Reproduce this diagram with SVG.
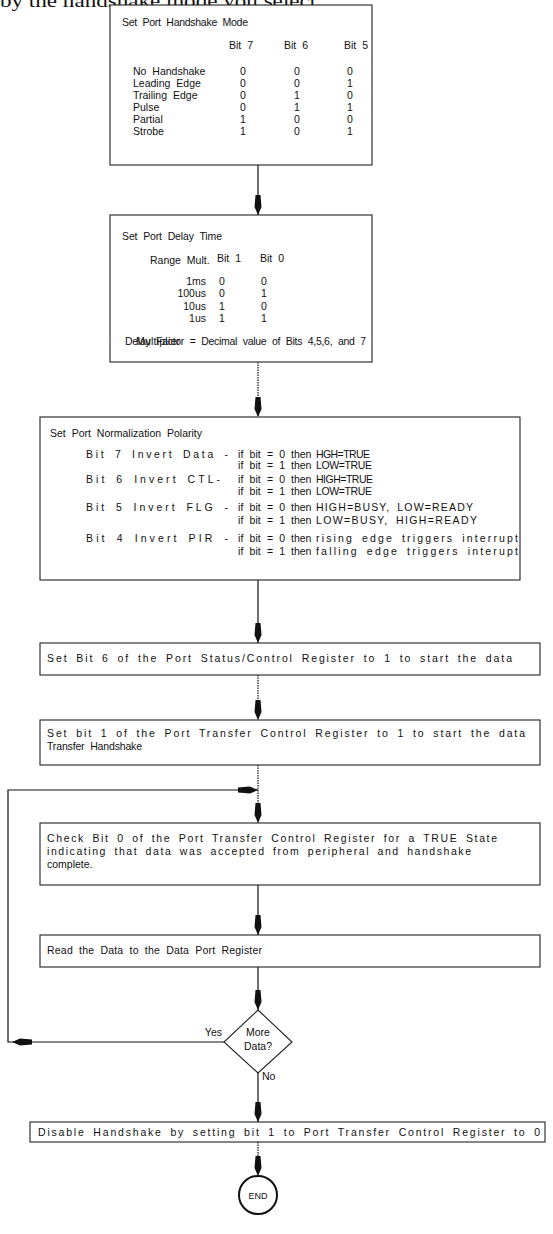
<svg xmlns="http://www.w3.org/2000/svg" width="553" height="1234" viewBox="0 0 553 1234">
<style>
.t{font-family:"Liberation Sans",Arial,sans-serif;font-size:10.5px;word-spacing:3px;fill:#111}
.m{text-anchor:middle}
.e{text-anchor:end}
.box{fill:#fff;stroke:#222;stroke-width:1.1}
.c{fill:none;stroke:#111;stroke-width:1.2}
.d{stroke-dasharray:1.5 1}
.top{font-family:"Liberation Serif","Times New Roman",serif;font-size:18px;fill:#111}
</style>
<defs>
<marker id="ah" viewBox="0 0 20 8" refX="20" refY="4" markerWidth="20" markerHeight="8" orient="auto" markerUnits="userSpaceOnUse">
<path d="M0,1.5 L12,0.5 L20,4 L12,7.5 L0,6.5 z" fill="#111"/>
</marker>
</defs>
<rect width="553" height="1234" fill="#fff"/>
<text class="top" x="0" y="7" textLength="322" lengthAdjust="spacingAndGlyphs">by the handshake mode you select.</text>

<g id="connectors">
<path class="c" d="M258,165 V215" marker-end="url(#ah)"/>
<path class="c d" d="M258,362 V417" marker-end="url(#ah)"/>
<path class="c" d="M258,580 V643" marker-end="url(#ah)"/>
<path class="c d" d="M258,675 V720" marker-end="url(#ah)"/>
<path class="c d" d="M258,765 V823" marker-end="url(#ah)"/>
<path class="c" d="M258,885 V935" marker-end="url(#ah)"/>
<path class="c" d="M258,967 V1010" marker-end="url(#ah)"/>
<path class="c" d="M258,1073 V1122" marker-end="url(#ah)"/>
<path class="c d" d="M258,1142 V1176" marker-end="url(#ah)"/>
<path class="c" d="M224,1042 H12" marker-end="url(#ah)"/>
<path class="c" d="M12,1042 H8 V790 H258" marker-end="url(#ah)"/>
</g>

<g id="handshake-mode">
<rect class="box" x="110" y="5" width="262" height="160"/>
<text class="t" x="122" y="26" textLength="126">Set Port Handshake Mode</text>
<text class="t" x="229" y="49">Bit 7</text>
<text class="t" x="284" y="49">Bit 6</text>
<text class="t" x="344" y="49">Bit 5</text>
<text class="t" x="133" y="75">No Handshake</text>
<text class="t" x="133" y="87">Leading Edge</text>
<text class="t" x="133" y="99">Trailing Edge</text>
<text class="t" x="133" y="111">Pulse</text>
<text class="t" x="133" y="123">Partial</text>
<text class="t" x="133" y="135">Strobe</text>
<text class="t m" x="243" y="75">0</text><text class="t m" x="297" y="75">0</text><text class="t m" x="350" y="75">0</text>
<text class="t m" x="243" y="87">0</text><text class="t m" x="297" y="87">0</text><text class="t m" x="350" y="87">1</text>
<text class="t m" x="243" y="99">0</text><text class="t m" x="297" y="99">1</text><text class="t m" x="350" y="99">0</text>
<text class="t m" x="243" y="111">0</text><text class="t m" x="297" y="111">1</text><text class="t m" x="350" y="111">1</text>
<text class="t m" x="243" y="123">1</text><text class="t m" x="297" y="123">0</text><text class="t m" x="350" y="123">0</text>
<text class="t m" x="243" y="135">1</text><text class="t m" x="297" y="135">0</text><text class="t m" x="350" y="135">1</text>
</g>

<g id="delay-time">
<rect class="box" x="110" y="215" width="262" height="147"/>
<text class="t" x="122" y="240" textLength="100">Set Port Delay Time</text>
<text class="t" x="150" y="264">Range Mult.</text>
<text class="t" x="217" y="262">Bit 1</text>
<text class="t" x="260" y="262">Bit 0</text>
<text class="t e" x="206" y="285">1ms</text><text class="t m" x="222" y="285">0</text><text class="t m" x="264" y="285">0</text>
<text class="t e" x="206" y="297">100us</text><text class="t m" x="222" y="297">0</text><text class="t m" x="264" y="297">1</text>
<text class="t e" x="206" y="310">10us</text><text class="t m" x="222" y="310">1</text><text class="t m" x="264" y="310">0</text>
<text class="t e" x="206" y="322">1us</text><text class="t m" x="222" y="322">1</text><text class="t m" x="264" y="322">1</text>
<text class="t" x="125" y="345" textLength="241">Delay Factor = Decimal value of Bits 4,5,6, and 7</text>
<text class="t" x="136" y="345" textLength="44">Multiplier</text>
</g>

<g id="normalization-polarity">
<rect class="box" x="40" y="417" width="480" height="163"/>
<text class="t" x="50" y="437" textLength="152">Set Port Normalization Polarity</text>
<text class="t" x="86" y="458" textLength="142">Bit 7 Invert Data -</text>
<text class="t" x="86" y="483" textLength="134">Bit 6 Invert CTL-</text>
<text class="t" x="86" y="511" textLength="142">Bit 5 Invert FLG -</text>
<text class="t" x="86" y="542" textLength="142">Bit 4 Invert PIR -</text>
<text class="t" x="238" y="458" textLength="47">if bit = 0</text><text class="t" x="291" y="458">then</text><text class="t" x="316" y="458" textLength="54">HGH=TRUE</text>
<text class="t" x="238" y="469" textLength="47">if bit = 1</text><text class="t" x="291" y="469">then</text><text class="t" x="316" y="469" textLength="56">LOW=TRUE</text>
<text class="t" x="238" y="483" textLength="47">if bit = 0</text><text class="t" x="291" y="483">then</text><text class="t" x="316" y="483" textLength="57">HIGH=TRUE</text>
<text class="t" x="238" y="495" textLength="47">if bit = 1</text><text class="t" x="291" y="495">then</text><text class="t" x="316" y="495" textLength="56">LOW=TRUE</text>
<text class="t" x="238" y="511" textLength="47">if bit = 0</text><text class="t" x="291" y="511">then</text><text class="t" x="316" y="511" textLength="157">HIGH=BUSY, LOW=READY</text>
<text class="t" x="238" y="524" textLength="47">if bit = 1</text><text class="t" x="291" y="524">then</text><text class="t" x="316" y="524" textLength="161">LOW=BUSY, HIGH=READY</text>
<text class="t" x="238" y="542" textLength="47">if bit = 0</text><text class="t" x="291" y="542">then</text><text class="t" x="316" y="542" textLength="202">rising edge triggers interrupt</text>
<text class="t" x="238" y="555" textLength="47">if bit = 1</text><text class="t" x="291" y="555">then</text><text class="t" x="316" y="555" textLength="202">falling edge triggers interupt</text>
</g>

<g id="set-bit6">
<rect class="box" x="40" y="643" width="500" height="32"/>
<text class="t" x="47" y="662" textLength="465">Set Bit 6 of the Port Status/Control Register to 1 to start the data</text>
</g>

<g id="set-bit1">
<rect class="box" x="40" y="720" width="500" height="45"/>
<text class="t" x="47" y="737" textLength="478">Set bit 1 of the Port Transfer Control Register to 1 to start the data</text>
<text class="t" x="47" y="750" textLength="95">Transfer Handshake</text>
</g>

<g id="check-bit0">
<rect class="box" x="40" y="823" width="500" height="62"/>
<text class="t" x="47" y="842" textLength="450">Check Bit 0 of the Port Transfer Control Register for a TRUE State</text>
<text class="t" x="47" y="855" textLength="424">indicating that data was accepted from peripheral and handshake</text>
<text class="t" x="47" y="868">complete.</text>
</g>

<g id="read-data">
<rect class="box" x="40" y="935" width="500" height="32"/>
<text class="t" x="47" y="954" textLength="215">Read the Data to the Data Port Register</text>
</g>

<g id="more-data">
<polygon class="box" points="258,1010 292,1042 258,1073 224,1042"/>
<text class="t m" x="258" y="1036">More</text>
<text class="t m" x="258" y="1050">Data?</text>
<text class="t e" x="222" y="1036">Yes</text>
<text class="t" x="262" y="1080">No</text>
</g>

<g id="disable-handshake">
<rect class="box" x="30" y="1122" width="515" height="20"/>
<text class="t" x="38" y="1136" textLength="502">Disable Handshake by setting bit 1 to Port Transfer Control Register to 0</text>
</g>

<g id="end">
<circle cx="258" cy="1195" r="19" fill="#fff" stroke="#111" stroke-width="2"/>
<text class="t m" x="258" y="1199" style="font-size:9px">END</text>
</g>
</svg>
